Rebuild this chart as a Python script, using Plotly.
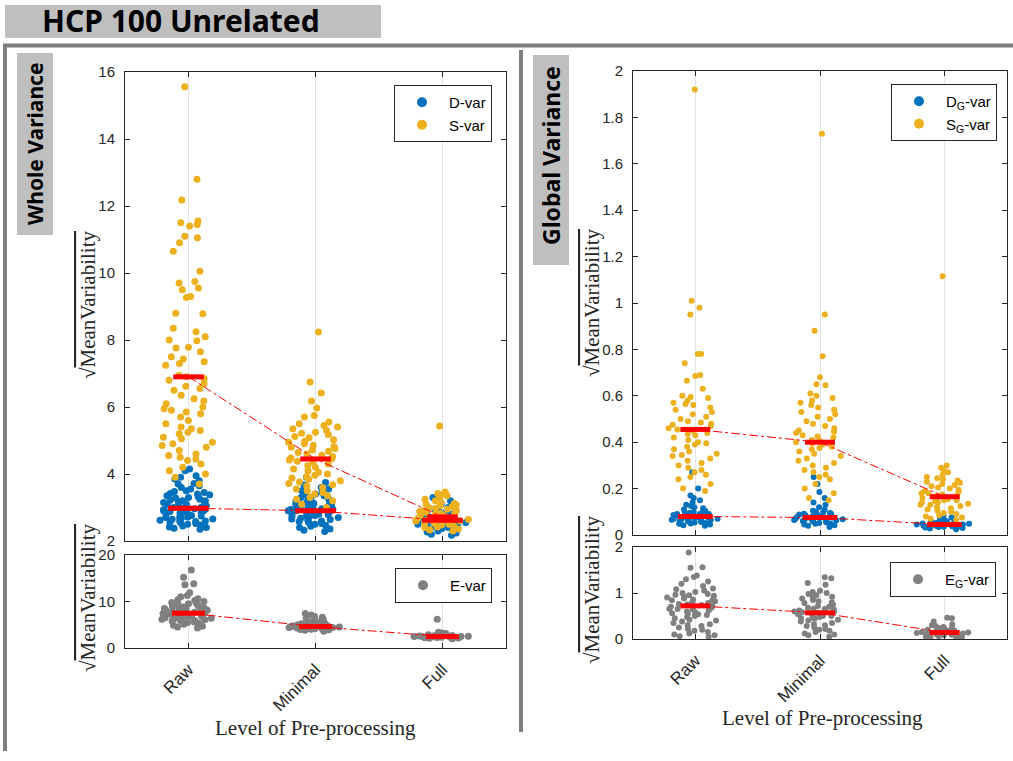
import plotly.graph_objects as go

W, H = 1013, 761
def px(x): return x / W
def py(y): return 1 - y / H

levels = ["Raw", "Minimal", "Full"]

# ---------------- Whole variance ----------------
S_W = [
    [15.56, 12.8, 12.18, 11.55, 11.5, 11.45, 11.4, 11.1, 11.05, 10.9, 10.65, 10.05, 9.75, 9.7, 9.55, 9.5, 9.3, 9.27,
     8.8, 8.78, 8.35, 8.25, 8.1, 8.0, 7.98, 7.78, 7.76, 7.65, 7.5, 7.43, 7.35, 7.3, 7.25, 6.95, 6.9, 6.85, 6.8, 6.7,
     6.62, 6.55, 6.5, 6.35, 6.25, 6.18, 6.1, 6.0, 5.95, 5.9, 5.85, 5.8, 5.7, 5.6, 5.5, 5.4, 5.35, 5.3, 5.25, 5.2,
     5.1, 5.05, 4.95, 4.9, 4.85, 4.8, 4.7, 4.6, 4.55, 4.5, 4.45, 4.4, 4.3, 4.2, 4.1, 4.0, 3.9, 3.7],
    [8.24, 6.75, 6.42, 6.18, 5.97, 5.75, 5.7, 5.55, 5.5, 5.45, 5.4, 5.35, 5.3, 5.25, 5.22, 5.18, 5.12, 5.08, 5.02,
     4.98, 4.95, 4.9, 4.86, 4.82, 4.8, 4.76, 4.72, 4.68, 4.64, 4.6, 4.56, 4.52, 4.48, 4.45, 4.42, 4.38, 4.34, 4.3,
     4.25, 4.2, 4.15, 4.1, 4.05, 4.0, 3.96, 3.92, 3.88, 3.84, 3.8, 3.76, 3.72, 3.68, 3.64, 3.6, 3.55, 3.5, 3.45,
     3.4, 3.35, 3.3, 3.25, 3.2, 3.1, 3.0],
    [5.43, 3.46, 3.42, 3.38, 3.35, 3.3, 3.25, 3.2, 3.16, 3.12, 3.08, 3.05, 3.02, 3.0, 2.98, 2.95, 2.92, 2.9, 2.88,
     2.85, 2.82, 2.8, 2.78, 2.76, 2.74, 2.72, 2.7, 2.68, 2.66, 2.64, 2.62, 2.6, 2.58, 2.56, 2.54, 2.52, 2.5, 2.48,
     2.45, 2.42, 2.4, 2.36, 2.33, 2.3, 2.6, 2.7, 2.8, 2.9, 3.1, 2.65],
]
D_W = [
    [4.15, 4.1, 3.95, 3.9, 3.85, 3.8, 3.72, 3.7, 3.65, 3.6, 3.55, 3.5, 3.48, 3.45, 3.42, 3.4, 3.38, 3.35, 3.32, 3.3,
     3.28, 3.25, 3.22, 3.2, 3.18, 3.15, 3.12, 3.1, 3.08, 3.05, 3.02, 3.0, 2.98, 2.96, 2.95, 2.93, 2.9, 2.88, 2.86,
     2.85, 2.82, 2.8, 2.78, 2.76, 2.75, 2.72, 2.7, 2.68, 2.66, 2.65, 2.62, 2.6, 2.58, 2.56, 2.55, 2.52, 2.5, 2.48,
     2.45, 2.42, 2.4, 2.38, 2.35, 3.0, 2.9, 2.8, 2.7, 3.1, 3.2, 2.6],
    [3.9, 3.75, 3.67, 3.6, 3.55, 3.5, 3.45, 3.4, 3.38, 3.35, 3.3, 3.28, 3.25, 3.2, 3.18, 3.15, 3.12, 3.1, 3.08, 3.05,
     3.02, 3.0, 2.98, 2.96, 2.94, 2.92, 2.9, 2.88, 2.86, 2.84, 2.82, 2.8, 2.78, 2.76, 2.74, 2.72, 2.7, 2.68, 2.66,
     2.64, 2.62, 2.6, 2.58, 2.55, 2.52, 2.5, 2.47, 2.44, 2.4, 2.36, 2.32, 2.28, 2.9, 2.85, 2.95, 2.8, 3.0, 2.75],
    [3.3, 3.2, 3.1, 3.0, 2.95, 2.9, 2.85, 2.8, 2.78, 2.75, 2.72, 2.7, 2.68, 2.65, 2.63, 2.6, 2.58, 2.55, 2.53, 2.5,
     2.48, 2.45, 2.42, 2.4, 2.37, 2.34, 2.3, 2.27, 2.24, 2.2, 2.17, 2.6, 2.65, 2.7, 2.55, 2.5, 2.62, 2.58, 2.68, 2.45],
]
E_W = [
    [16.8, 15.2, 13.8, 13.6, 11.9, 11.3, 11.0, 10.6, 10.4, 10.2, 10.0, 9.8, 9.6, 9.5, 9.3, 9.1, 9.0, 8.8, 8.7, 8.6,
     8.5, 8.4, 8.3, 8.2, 8.1, 8.0, 7.9, 7.8, 7.7, 7.6, 7.5, 7.4, 7.3, 7.2, 7.1, 7.0, 6.9, 6.8, 6.7, 6.6, 6.5, 6.4,
     6.3, 6.2, 6.1, 6.0, 5.9, 5.8, 5.6, 5.5, 5.3, 5.1, 4.9, 4.7, 4.5, 4.3, 7.6, 7.2, 6.8, 8.0, 8.4, 6.4, 7.0, 5.8],
    [7.4, 7.1, 6.8, 6.6, 6.4, 6.2, 6.0, 5.8, 5.6, 5.5, 5.4, 5.3, 5.2, 5.1, 5.0, 4.95, 4.9, 4.85, 4.8, 4.75, 4.7,
     4.65, 4.6, 4.55, 4.5, 4.45, 4.4, 4.35, 4.3, 4.25, 4.2, 4.15, 4.1, 4.05, 4.0, 3.9, 3.8, 3.6, 4.6, 4.5, 4.7, 4.8,
     4.4, 4.3],
    [6.2, 3.4, 3.2, 3.1, 3.0, 2.9, 2.85, 2.8, 2.75, 2.7, 2.65, 2.6, 2.55, 2.5, 2.45, 2.4, 2.35, 2.3, 2.25, 2.2, 2.15,
     2.1, 2.0, 2.5, 2.6, 2.4, 2.7, 2.3, 2.55, 2.45],
]
S_W_center = [6.9, 4.45, 2.72]
D_W_center = [2.98, 2.9, 2.62]
E_W_center = [7.5, 4.6, 2.5]

# ---------------- Global variance ----------------
S_G = [
    [1.92, 1.01, 0.98, 0.95, 0.78, 0.78, 0.74, 0.69, 0.685, 0.665, 0.63, 0.6, 0.595, 0.59, 0.58, 0.57, 0.565, 0.56,
     0.55, 0.54, 0.53, 0.52, 0.51, 0.5, 0.49, 0.485, 0.48, 0.475, 0.47, 0.46, 0.455, 0.45, 0.44, 0.435, 0.43, 0.42,
     0.41, 0.4, 0.395, 0.39, 0.38, 0.37, 0.36, 0.35, 0.345, 0.34, 0.33, 0.32, 0.31, 0.3, 0.29, 0.28, 0.27, 0.26,
     0.25, 0.24, 0.22, 0.2, 0.19],
    [1.73, 0.95, 0.88, 0.77, 0.68, 0.65, 0.645, 0.61, 0.6, 0.59, 0.58, 0.57, 0.56, 0.55, 0.54, 0.53, 0.52, 0.51, 0.5,
     0.49, 0.48, 0.47, 0.46, 0.45, 0.445, 0.44, 0.43, 0.425, 0.42, 0.41, 0.405, 0.4, 0.395, 0.39, 0.38, 0.375, 0.37,
     0.36, 0.35, 0.34, 0.33, 0.32, 0.31, 0.3, 0.29, 0.28, 0.27, 0.26, 0.25, 0.24, 0.22, 0.2, 0.18, 0.16, 0.15],
    [1.115, 0.3, 0.29, 0.28, 0.27, 0.26, 0.25, 0.245, 0.24, 0.235, 0.23, 0.225, 0.22, 0.215, 0.21, 0.205, 0.2, 0.195,
     0.19, 0.185, 0.18, 0.175, 0.17, 0.165, 0.16, 0.155, 0.15, 0.145, 0.14, 0.135, 0.13, 0.125, 0.12, 0.115, 0.11,
     0.105, 0.1, 0.095, 0.09, 0.085, 0.08, 0.075, 0.07, 0.065, 0.17, 0.16, 0.15, 0.18, 0.14, 0.13],
]
D_G = [
    [0.27, 0.2, 0.17, 0.16, 0.15, 0.14, 0.13, 0.125, 0.12, 0.115, 0.11, 0.105, 0.1, 0.1, 0.095, 0.095, 0.09, 0.09,
     0.088, 0.086, 0.084, 0.082, 0.08, 0.08, 0.078, 0.076, 0.074, 0.072, 0.07, 0.07, 0.068, 0.066, 0.064, 0.062, 0.06,
     0.058, 0.056, 0.054, 0.052, 0.05, 0.048, 0.045, 0.042, 0.04, 0.08, 0.075, 0.085, 0.07, 0.065, 0.09],
    [0.25, 0.22, 0.185, 0.16, 0.14, 0.13, 0.12, 0.11, 0.105, 0.1, 0.098, 0.095, 0.092, 0.09, 0.088, 0.085, 0.082,
     0.08, 0.078, 0.076, 0.075, 0.074, 0.072, 0.07, 0.068, 0.066, 0.064, 0.062, 0.06, 0.058, 0.055, 0.052, 0.05,
     0.048, 0.045, 0.042, 0.04, 0.035, 0.075, 0.07, 0.08, 0.065, 0.085, 0.06],
    [0.085, 0.075, 0.07, 0.065, 0.06, 0.058, 0.055, 0.052, 0.05, 0.048, 0.046, 0.045, 0.044, 0.042, 0.04, 0.038,
     0.036, 0.034, 0.032, 0.03, 0.028, 0.025, 0.045, 0.05, 0.04, 0.055, 0.035, 0.06],
]
E_G = [
    [1.88, 1.56, 1.55, 1.38, 1.35, 1.3, 1.25, 1.2, 1.15, 1.1, 1.08, 1.05, 1.02, 1.0, 0.98, 0.96, 0.94, 0.92, 0.9,
     0.88, 0.86, 0.84, 0.82, 0.8, 0.78, 0.76, 0.74, 0.72, 0.7, 0.68, 0.66, 0.64, 0.62, 0.6, 0.58, 0.56, 0.54, 0.52,
     0.5, 0.48, 0.45, 0.42, 0.4, 0.38, 0.35, 0.32, 0.3, 0.28, 0.25, 0.22, 0.2, 0.18, 0.15, 0.12, 0.1, 0.08, 0.06,
     0.05, 0.75, 0.85, 0.95, 0.65, 0.55],
    [1.34, 1.32, 1.22, 1.18, 1.05, 1.02, 1.0, 0.98, 0.95, 0.92, 0.9, 0.88, 0.85, 0.82, 0.8, 0.78, 0.75, 0.72, 0.7,
     0.68, 0.66, 0.64, 0.62, 0.6, 0.58, 0.57, 0.56, 0.55, 0.54, 0.52, 0.5, 0.48, 0.46, 0.44, 0.42, 0.4, 0.38, 0.35,
     0.32, 0.3, 0.28, 0.25, 0.22, 0.2, 0.18, 0.15, 0.12, 0.1, 0.08, 0.05, 0.6, 0.55, 0.5, 0.45, 0.65],
    [0.46, 0.45, 0.38, 0.32, 0.3, 0.28, 0.26, 0.25, 0.24, 0.22, 0.2, 0.19, 0.18, 0.17, 0.16, 0.15, 0.14, 0.13, 0.12,
     0.11, 0.1, 0.09, 0.08, 0.07, 0.06, 0.05, 0.04, 0.03, 0.02, 0.15, 0.12, 0.1, 0.14, 0.18],
]
S_G_center = [0.455, 0.40, 0.165]
D_G_center = [0.08, 0.075, 0.045]
E_G_center = [0.72, 0.57, 0.14]

BLUE, YELLOW, GRAY, RED = "#0072BD", "#EDB120", "#808080", "#FF0000"
DARK = "#262626"
SANS = "Liberation Sans, Arial, sans-serif"
SERIF = "Liberation Serif, Times New Roman, serif"

fig = go.Figure()

def add_groups(groups, color, xa, ya, msize):
    for k, vals in enumerate(groups):
        fig.add_trace(go.Box(
            x=[k + 1] * len(vals), y=vals, xaxis=xa, yaxis=ya,
            boxpoints="all", jitter=1, pointpos=0, width=0.46,
            fillcolor="rgba(0,0,0,0)", line=dict(width=0, color="rgba(0,0,0,0)"),
            marker=dict(color=color, size=msize, opacity=1, line=dict(width=0)),
            showlegend=False, hoverinfo="y"))

def add_centers(centers, hw, xa, ya):
    fig.add_trace(go.Scatter(
        x=[1, 2, 3], y=centers, xaxis=xa, yaxis=ya, mode="lines",
        line=dict(color=RED, width=1, dash="dashdot"), showlegend=False, hoverinfo="skip"))
    bx, by = [], []
    for k, c in enumerate(centers):
        bx += [k + 1 - hw, k + 1 + hw, None]
        by += [c, c, None]
    fig.add_trace(go.Scatter(
        x=bx, y=by, xaxis=xa, yaxis=ya, mode="lines",
        line=dict(color=RED, width=5), showlegend=False, hoverinfo="skip"))

def add_legend_entry(name, color, xa, ya, legend):
    fig.add_trace(go.Scatter(
        x=[None], y=[None], xaxis=xa, yaxis=ya, mode="markers", name=name,
        marker=dict(color=color, size=10), legend=legend, showlegend=True))

# left panel
add_groups(D_W, BLUE, "x", "y", 7)
add_groups(S_W, YELLOW, "x", "y", 7)
add_centers(S_W_center, 0.12, "x", "y")
add_centers(D_W_center, 0.16, "x", "y")
add_groups(E_W, GRAY, "x2", "y2", 7)
add_centers(E_W_center, 0.13, "x2", "y2")
# right panel
add_groups(D_G, BLUE, "x3", "y3", 6)
add_groups(S_G, YELLOW, "x3", "y3", 6)
add_centers(S_G_center, 0.12, "x3", "y3")
add_centers(D_G_center, 0.14, "x3", "y3")
add_groups(E_G, GRAY, "x4", "y4", 6)
add_centers(E_G_center, 0.12, "x4", "y4")

add_legend_entry("D-var", BLUE, "x", "y", "legend")
add_legend_entry("S-var", YELLOW, "x", "y", "legend")
add_legend_entry("E-var", GRAY, "x2", "y2", "legend2")
add_legend_entry("D<sub>G</sub>-var", BLUE, "x3", "y3", "legend3")
add_legend_entry("S<sub>G</sub>-var", YELLOW, "x3", "y3", "legend3")
add_legend_entry("E<sub>G</sub>-var", GRAY, "x4", "y4", "legend4")

def xaxis(x0, x1, anchor, labels):
    return dict(domain=[px(x0), px(x1)], anchor=anchor, range=[0.5, 3.5], automargin=False,
                tickvals=[1, 2, 3], ticktext=levels, showticklabels=labels, tickangle=-45,
                showgrid=True, gridcolor="#e3e3e3", gridwidth=1, zeroline=False,
                ticks="inside", ticklen=5, tickcolor=DARK, mirror="ticks", showline=True,
                linecolor=DARK, linewidth=1, ticklabelstandoff=4,
                tickfont=dict(family=SANS, size=17, color=DARK))

def yaxis(y0, y1, anchor, rng, tickvals):
    return dict(domain=[py(y1), py(y0)], anchor=anchor, range=rng, tickvals=tickvals, automargin=False,
                showgrid=False, zeroline=False, ticks="inside", ticklen=5, tickcolor=DARK,
                mirror="ticks", showline=True, linecolor=DARK, linewidth=1,
                ticklabelstandoff=6, tickfont=dict(family=SANS, size=15, color=DARK))

def legend_box(xr, yt):
    return dict(x=px(xr), y=py(yt), xanchor="right", yanchor="top", bgcolor="white",
                bordercolor=DARK, borderwidth=1, font=dict(family=SANS, size=15, color="black"),
                itemwidth=44, itemclick=False, itemdoubleclick=False)

fig.update_layout(
    width=W, height=H, margin=dict(l=0, r=0, t=0, b=0, pad=0, autoexpand=False),
    paper_bgcolor="white", plot_bgcolor="white", boxmode="overlay",
    xaxis=xaxis(125, 506, "y", False),
    yaxis=yaxis(72, 541, "x", [2, 16], [2, 4, 6, 8, 10, 12, 14, 16]),
    xaxis2=xaxis(125, 506, "y2", True),
    yaxis2=yaxis(555, 648, "x2", [0, 20], [0, 10, 20]),
    xaxis3=xaxis(633, 1007, "y3", False),
    yaxis3=yaxis(71, 535, "x3", [0, 2], [0, 0.2, 0.4, 0.6, 0.8, 1, 1.2, 1.4, 1.6, 1.8, 2]),
    xaxis4=xaxis(633, 1007, "y4", True),
    yaxis4=yaxis(547, 639, "x4", [0, 2], [0, 1, 2]),
    legend=legend_box(492, 85),
    legend2=legend_box(492, 568),
    legend3=legend_box(997, 84),
    legend4=legend_box(996, 562),
)

shapes = [
    dict(type="rect", xref="paper", yref="paper", x0=px(5), x1=px(381), y0=py(38), y1=py(5),
         fillcolor="#bfbfbf", line=dict(width=0), layer="below"),
    dict(type="line", xref="paper", yref="paper", x0=px(3), x1=px(1013), y0=py(45.5), y1=py(45.5),
         line=dict(color="#7f7f7f", width=4)),
    dict(type="line", xref="paper", yref="paper", x0=px(5), x1=px(5), y0=py(44), y1=py(751),
         line=dict(color="#7f7f7f", width=4)),
    dict(type="line", xref="paper", yref="paper", x0=px(521), x1=px(521), y0=py(50), y1=py(732),
         line=dict(color="#7f7f7f", width=4)),
    dict(type="rect", xref="paper", yref="paper", x0=px(17), x1=px(53), y0=py(235), y1=py(53),
         fillcolor="#bfbfbf", line=dict(width=0), layer="below"),
    dict(type="rect", xref="paper", yref="paper", x0=px(533), x1=px(569), y0=py(265), y1=py(55),
         fillcolor="#bfbfbf", line=dict(width=0), layer="below"),
]
fig.update_layout(shapes=shapes)

ylab = "√<span style='text-decoration:overline'>MeanVariability</span>"
annotations = [
    dict(text="<b>HCP 100 Unrelated</b>", x=px(40), y=py(21), xanchor="left", yanchor="middle",
         font=dict(family="Noto Sans, sans-serif", size=30, color="black")),
    dict(text="<b>Whole Variance</b>", x=px(35), y=py(144), textangle=-90,
         font=dict(family="Noto Sans, sans-serif", size=21, color="black")),
    dict(text="<b>Global Variance</b>", x=px(551), y=py(156), textangle=-90,
         font=dict(family="Noto Sans, sans-serif", size=23, color="black")),
    dict(text=ylab, x=px(88), y=py(305), textangle=-90,
         font=dict(family=SERIF, size=21, color=DARK)),
    dict(text=ylab, x=px(88), y=py(598), textangle=-90,
         font=dict(family=SERIF, size=21, color=DARK)),
    dict(text=ylab, x=px(592), y=py(303), textangle=-90,
         font=dict(family=SERIF, size=21, color=DARK)),
    dict(text=ylab, x=px(592), y=py(590), textangle=-90,
         font=dict(family=SERIF, size=21, color=DARK)),
    dict(text="Level of Pre-processing", x=px(315), y=py(728),
         font=dict(family=SERIF, size=21, color=DARK)),
    dict(text="Level of Pre-processing", x=px(822), y=py(718),
         font=dict(family=SERIF, size=21, color=DARK)),
]
for a in annotations:
    a.setdefault("xanchor", "center")
    a.setdefault("yanchor", "middle")
    a.update(xref="paper", yref="paper", showarrow=False)
fig.update_layout(annotations=annotations)

fig.write_html("out.html")
